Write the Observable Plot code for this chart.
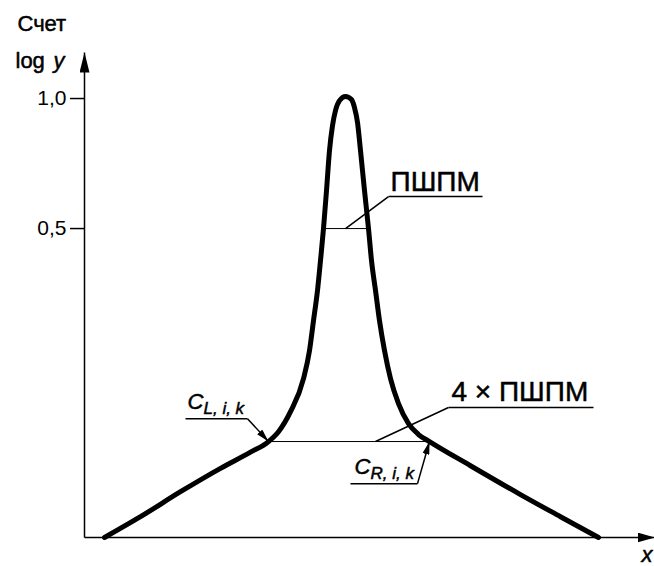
<!DOCTYPE html>
<html><head><meta charset="utf-8">
<script src="https://cdn.jsdelivr.net/npm/d3@7"></script>
<script src="https://cdn.jsdelivr.net/npm/@observablehq/plot@0.6"></script>
<style>body{margin:0;background:#fff}</style>
</head><body><div id="chart"></div>
<script>
// Peak profile (x in arbitrary channel units, y = log count, scaled)
const peakX = [20, 56, 96, 136, 166, 184, 194, 206, 219, 225, 229, 233, 236, 239, 242, 245, 248, 251, 255, 261,
               267, 270, 273, 276, 280, 284, 287, 291, 295, 300, 306, 314, 324, 334, 345, 386, 436, 476, 514];
const peakY = [-0.688, -0.608, -0.512, -0.422, -0.360, -0.319, -0.281, -0.204, -0.077, 0.031, 0.146, 0.262, 0.377, 0.5, 0.646, 0.8, 0.896, 0.954, 0.992, 1.008,
               0.996, 0.965, 0.908, 0.8, 0.646, 0.5, 0.377, 0.262, 0.146, 0.031, -0.077, -0.173, -0.25, -0.292, -0.319, -0.412, -0.523, -0.608, -0.688];
const yTicks = [0.5, 1.0];
const yTickLabels = ["0,5", "1,0"];
const xDomain = [0, 570];
const yDomain = [-0.688, 1.177];
// half-maximum width and 4x width levels
const widthLines = [
  {level: 0.5, left: 239, right: 284},
  {level: -0.319, left: 184, right: 345}
];
// leader lines (annotation call-outs)
const leaders = [
  {x1: 261, y1: 0.5, x2: 304, y2: 0.623},
  {x1: 304, y1: 0.623, x2: 398, y2: 0.623},
  {x1: 291, y1: -0.319, x2: 364, y2: -0.188},
  {x1: 364, y1: -0.188, x2: 509, y2: -0.188},
  {x1: 101, y1: -0.231, x2: 163, y2: -0.231},
  {x1: 266, y1: -0.481, x2: 333, y2: -0.481}
];
const arrowLeaders = [
  {x1: 163, y1: -0.231, x2: 184, y2: -0.319},
  {x1: 333, y1: -0.481, x2: 345, y2: -0.319}
];
const bigLabels = [
  {x: 306, y: 0.623, text: "ПШПМ"},
  {x: 367, y: -0.188, text: "4 × ПШПМ"}
];
const pointLabels = [
  {x: 103, y: -0.231, main: "C", sub: "L, i, k"},
  {x: 270, y: -0.481, main: "C", sub: "R, i, k"}
];
const yTitle1 = "Счет";
const yTitle2a = "log";
const yTitle2b = "y";
const xTitle = "x";

function filledArrow(len, half) {
  return (color) => {
    const m = d3.create("svg:marker")
      .attr("viewBox", `${-len} ${-half} ${len} ${2 * half}`)
      .attr("markerWidth", len).attr("markerHeight", 2 * half)
      .attr("markerUnits", "userSpaceOnUse")
      .attr("refX", 0).attr("refY", 0)
      .attr("orient", "auto");
    m.append("path").attr("d", `M0,0L${-len},${-half}L${-len},${half}Z`).attr("fill", color).attr("stroke", "none");
    return m.node();
  };
}

const peak = peakX.map((x, i) => ({x, y: peakY[i]}));
const font = '"Liberation Sans", Arial, Helvetica, sans-serif';
const heavy = {stroke: "black", strokeWidth: 0.5, fill: "black"};

const chart = Plot.plot({
  width: 654,
  height: 566,
  marginLeft: 84,
  marginRight: 0,
  marginTop: 52,
  marginBottom: 29,
  style: {fontFamily: font, color: "black", background: "white"},
  x: {domain: xDomain, axis: null},
  y: {domain: yDomain, axis: null},
  marks: [
    // axes with filled arrowheads
    Plot.link([{x1: 0, y1: yDomain[0], x2: 0, y2: yDomain[1]}], {x1: "x1", y1: "y1", x2: "x2", y2: "y2", stroke: "black", strokeWidth: 1.5, markerEnd: filledArrow(20, 5)}),
    Plot.link([{x1: 0, y1: yDomain[0], x2: xDomain[1], y2: yDomain[0]}], {x1: "x1", y1: "y1", x2: "x2", y2: "y2", stroke: "black", strokeWidth: 1.5, markerEnd: filledArrow(17, 5)}),
    Plot.axisY(yTicks, {anchor: "left", tickSize: 14, tickPadding: 4, fontSize: 21, strokeWidth: 1.5,
      tickFormat: d => yTickLabels[yTicks.indexOf(d)]}),
    // width lines
    Plot.ruleY(widthLines, {y: "level", x1: "left", x2: "right", stroke: "black", strokeWidth: 1}),
    // leaders
    Plot.link(leaders, {x1: "x1", y1: "y1", x2: "x2", y2: "y2", stroke: "black", strokeWidth: 1.5}),
    Plot.link(arrowLeaders, {x1: "x1", y1: "y1", x2: "x2", y2: "y2", stroke: "black", strokeWidth: 1.5, markerEnd: filledArrow(13, 3.5)}),
    // peak
    Plot.line(peak, {x: "x", y: "y", curve: "monotone-x", stroke: "black", strokeWidth: 5, strokeLinejoin: "round"}),
    // labels
    Plot.text(bigLabels, {x: "x", y: "y", dy: -6, text: "text", textAnchor: "start", lineAnchor: "bottom", fontSize: 28, ...heavy}),
    Plot.text(pointLabels, {x: "x", y: "y", text: "main", dy: -10, textAnchor: "start", lineAnchor: "bottom", fontSize: 22, fontStyle: "italic", ...heavy}),
    Plot.text(pointLabels, {x: "x", y: "y", text: "sub", dx: 16, dy: -5, textAnchor: "start", lineAnchor: "bottom", fontSize: 17, fontStyle: "italic", ...heavy}),
    Plot.text([yTitle1], {frameAnchor: "top-left", dx: -67, dy: -22, textAnchor: "start", lineAnchor: "bottom", fontSize: 22, ...heavy}),
    Plot.text([yTitle2a], {frameAnchor: "top-left", dx: -69, dy: 15, textAnchor: "start", lineAnchor: "bottom", fontSize: 22, ...heavy}),
    Plot.text([yTitle2b], {frameAnchor: "top-left", dx: -31, dy: 15, textAnchor: "start", lineAnchor: "bottom", fontSize: 22, fontStyle: "italic", ...heavy}),
    Plot.text([xTitle], {frameAnchor: "bottom-right", dx: -2, dy: 24, textAnchor: "end", lineAnchor: "bottom", fontSize: 22, fontStyle: "italic", ...heavy})
  ]
});
document.getElementById("chart").append(chart);
</script>
</body></html>
